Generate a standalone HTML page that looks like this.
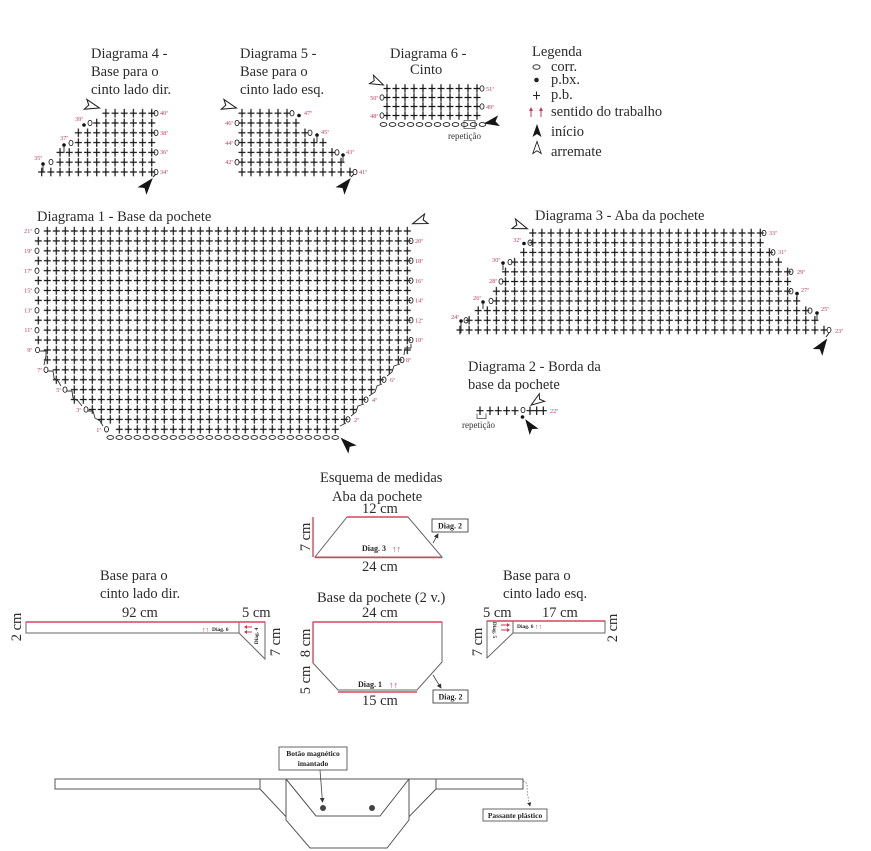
<!DOCTYPE html>
<html><head><meta charset="utf-8"><style>
html,body{margin:0;padding:0;background:#fff;}
svg{display:block;}
text{font-family:"Liberation Serif",serif;}
.t{font-size:14.5px;fill:#2b2b2b;}
.r{font-size:6.2px;fill:#c23b5a;}
.rl{font-size:6.2px;fill:#c23b5a;text-anchor:end;}
.b{font-size:8px;font-weight:bold;fill:#222;}
.sm{font-size:9px;fill:#333;}
</style></head><body>
<svg width="871" height="851" viewBox="0 0 871 851" xmlns="http://www.w3.org/2000/svg">
<defs>
<pattern id="p1" patternUnits="userSpaceOnUse" x="33.8" y="226.04" width="9" height="9.915"><path d="M1 4.96h7M4.5 0.7v8.5" stroke="#151515" stroke-width="1.2" fill="none"/></pattern>
<pattern id="pc1" patternUnits="userSpaceOnUse" x="33.8" y="434.5" width="9" height="6"><ellipse cx="4.5" cy="3" rx="3.3" ry="1.9" stroke="#222" stroke-width="0.9" fill="none"/></pattern>
<pattern id="p3" patternUnits="userSpaceOnUse" x="455.45" y="325.15" width="9.1" height="9.7"><path d="M1.05 4.85h7M4.55 0.6v8.5" stroke="#151515" stroke-width="1.2" fill="none"/></pattern>
<pattern id="p4" patternUnits="userSpaceOnUse" x="37.115" y="167.1" width="9.17" height="9.8"><path d="M1.08 4.9h7M4.585 0.65v8.5" stroke="#151515" stroke-width="1.2" fill="none"/></pattern>
<pattern id="p5" patternUnits="userSpaceOnUse" x="237.5" y="167.1" width="9" height="9.8"><path d="M1 4.9h7M4.5 0.65v8.5" stroke="#151515" stroke-width="1.2" fill="none"/></pattern>
<pattern id="p6" patternUnits="userSpaceOnUse" x="382.5" y="84" width="9" height="9"><path d="M1 4.5h7M4.5 0.3v8.4" stroke="#151515" stroke-width="1.2" fill="none"/></pattern>
<pattern id="pc6" patternUnits="userSpaceOnUse" x="379" y="121.5" width="9" height="6"><ellipse cx="4.5" cy="3" rx="3.3" ry="1.9" stroke="#222" stroke-width="0.9" fill="none"/></pattern>
<path id="ini" d="M0,-7 L4.5,6 L0,3 L-4.5,6 Z" fill="#151515"/>
<path id="arr" d="M0,-6.5 L4.2,5.5 L0,2.8 L-4.2,5.5 Z" fill="#fff" stroke="#222" stroke-width="0.9"/>
<ellipse id="o" cx="0" cy="0" rx="2" ry="2.7" fill="none" stroke="#222" stroke-width="0.9"/>
<marker id="ah" markerWidth="6" markerHeight="6" refX="5" refY="3" orient="auto"><path d="M0,0 L6,3 L0,6 Z" fill="#333"/></marker>
</defs>
<rect width="871" height="851" fill="#fff"/>

<!-- ===== Diagram 4 ===== -->
<text class="t" x="91" y="58">Diagrama 4 -</text>
<text class="t" x="91" y="76">Base para o</text>
<text class="t" x="91" y="94">cinto lado dir.</text>
<rect x="37.115" y="167.1" width="119.21" height="9.8" fill="url(#p4)"/>
<rect x="55.455" y="157.3" width="100.87" height="9.8" fill="url(#p4)"/>
<rect x="55.455" y="147.5" width="100.87" height="9.8" fill="url(#p4)"/>
<rect x="73.795" y="137.7" width="82.53" height="9.8" fill="url(#p4)"/>
<rect x="73.795" y="127.9" width="82.53" height="9.8" fill="url(#p4)"/>
<rect x="92.135" y="118.1" width="64.19" height="9.8" fill="url(#p4)"/>
<rect x="101.305" y="108.3" width="55.02" height="9.8" fill="url(#p4)"/>
<use href="#o" x="156" y="113.2"/><use href="#o" x="156" y="132.8"/><use href="#o" x="156" y="152.4"/><use href="#o" x="156" y="172"/>
<text class="r" x="160" y="115">40ª</text><text class="r" x="160" y="135">38ª</text><text class="r" x="160" y="154">36ª</text><text class="r" x="160" y="174">34ª</text>
<circle cx="84" cy="125" r="1.8" fill="#111"/><use href="#o" x="90" y="123"/><text class="rl" x="83" y="121">39ª</text>
<circle cx="64" cy="145" r="1.8" fill="#111"/><use href="#o" x="71" y="143"/><text class="rl" x="68" y="140">37ª</text>
<circle cx="43" cy="164" r="1.8" fill="#111"/><use href="#o" x="51" y="162"/><text class="rl" x="42" y="160">35ª</text>
<line x1="64" y1="145" x2="64" y2="153" stroke="#222" stroke-width="0.9"/>
<line x1="43" y1="164" x2="43" y2="172" stroke="#222" stroke-width="0.9"/>
<use href="#arr" transform="translate(92,106) rotate(105) scale(1.2)"/>
<line x1="153" y1="177" x2="156" y2="174" stroke="#222" stroke-width="1"/>
<use href="#ini" transform="translate(147,185) rotate(40) scale(1.3)"/>

<!-- ===== Diagram 5 ===== -->
<text class="t" x="240" y="58">Diagrama 5 -</text>
<text class="t" x="240" y="76">Base para o</text>
<text class="t" x="240" y="94">cinto lado esq.</text>
<rect x="237.5" y="167.1" width="117" height="9.8" fill="url(#p5)"/>
<rect x="237.5" y="157.3" width="108" height="9.8" fill="url(#p5)"/>
<rect x="237.5" y="147.5" width="99" height="9.8" fill="url(#p5)"/>
<rect x="237.5" y="137.7" width="90" height="9.8" fill="url(#p5)"/>
<rect x="237.5" y="127.9" width="72" height="9.8" fill="url(#p5)"/>
<rect x="237.5" y="118.1" width="63" height="9.8" fill="url(#p5)"/>
<rect x="237.5" y="108.3" width="54" height="9.8" fill="url(#p5)"/>
<use href="#o" x="292" y="113.2"/><circle cx="299" cy="115.5" r="1.8" fill="#111"/><text class="r" x="304" y="115">47ª</text>
<use href="#o" x="310" y="132.8"/><circle cx="317" cy="135" r="1.8" fill="#111"/><text class="r" x="321" y="134">45ª</text>
<use href="#o" x="337" y="152.4"/><circle cx="343" cy="155" r="1.8" fill="#111"/><text class="r" x="346" y="154">43ª</text>
<use href="#o" x="355" y="172"/><text class="r" x="359" y="174">41ª</text>
<use href="#o" x="237" y="123"/><text class="rl" x="233" y="125">46ª</text>
<use href="#o" x="237" y="142.6"/><text class="rl" x="233" y="145">44ª</text>
<use href="#o" x="237" y="162.2"/><text class="rl" x="233" y="164">42ª</text>
<line x1="317" y1="135" x2="317" y2="142" stroke="#222" stroke-width="0.9"/>
<line x1="343" y1="155" x2="343" y2="162" stroke="#222" stroke-width="0.9"/>
<use href="#arr" transform="translate(229,106) rotate(105) scale(1.2)"/>
<line x1="351" y1="177" x2="354" y2="174" stroke="#222" stroke-width="1"/>
<use href="#ini" transform="translate(345,185) rotate(40) scale(1.3)"/>

<!-- ===== Diagram 6 ===== -->
<text class="t" x="390" y="58">Diagrama 6 -</text>
<text class="t" x="410" y="74">Cinto</text>
<rect x="382.5" y="84" width="99" height="9" fill="url(#p6)"/>
<rect x="382.5" y="93" width="99" height="9" fill="url(#p6)"/>
<rect x="382.5" y="102" width="99" height="9" fill="url(#p6)"/>
<rect x="382.5" y="111" width="99" height="9" fill="url(#p6)"/>
<rect x="379" y="121.5" width="108" height="6" fill="url(#pc6)"/>
<rect x="464" y="120.5" width="11" height="8" fill="none" stroke="#444" stroke-width="0.7"/>
<use href="#o" x="482" y="88.5"/><text class="r" x="486" y="91">51ª</text>
<use href="#o" x="482" y="106.5"/><text class="r" x="486" y="109">49ª</text>
<use href="#o" x="382" y="97.5"/><text class="rl" x="378" y="100">50ª</text>
<use href="#o" x="382" y="115.5"/><text class="rl" x="378" y="118">48ª</text>
<text class="sm" x="448" y="139">repetição</text>
<use href="#arr" transform="translate(377,82) rotate(115) scale(1.1)"/>
<use href="#ini" transform="translate(492,122) rotate(-100) scale(1.2)"/>

<!-- ===== Legend ===== -->
<text class="t" x="532" y="56">Legenda</text>
<ellipse cx="536.5" cy="67" rx="3.5" ry="2.3" fill="none" stroke="#333" stroke-width="1"/>
<text class="t" x="551" y="71">corr.</text>
<circle cx="536.5" cy="80" r="2.3" fill="#222"/>
<text class="t" x="551" y="84">p.bx.</text>
<path d="M533 95.5h7M536.5 91.5v8" stroke="#222" stroke-width="1.1"/>
<text class="t" x="551" y="99">p.b.</text>
<path d="M531 117v-7M541 117v-7" stroke="#c23b5a" stroke-width="1"/>
<path d="M529 111l2-4 2 4zM539 111l2-4 2 4z" fill="#c23b5a"/>
<text class="t" x="551" y="116">sentido do trabalho</text>
<use href="#ini" transform="translate(537,131)"/>
<text class="t" x="551" y="136">início</text>
<use href="#arr" transform="translate(537,148)"/>
<text class="t" x="551" y="156">arremate</text>

<!-- ===== Diagram 1 ===== -->
<text class="t" x="37" y="221">Diagrama 1 - Base da pochete</text>
<rect x="42.8" y="226.04" width="369" height="9.915" fill="url(#p1)"/>
<rect x="33.8" y="235.96" width="378" height="9.915" fill="url(#p1)"/>
<rect x="42.8" y="245.87" width="369" height="9.915" fill="url(#p1)"/>
<rect x="33.8" y="255.79" width="378" height="9.915" fill="url(#p1)"/>
<rect x="42.8" y="265.70" width="369" height="9.915" fill="url(#p1)"/>
<rect x="33.8" y="275.62" width="378" height="9.915" fill="url(#p1)"/>
<rect x="42.8" y="285.53" width="369" height="9.915" fill="url(#p1)"/>
<rect x="33.8" y="295.45" width="378" height="9.915" fill="url(#p1)"/>
<rect x="42.8" y="305.36" width="369" height="9.915" fill="url(#p1)"/>
<rect x="33.8" y="315.28" width="378" height="9.915" fill="url(#p1)"/>
<rect x="42.8" y="325.19" width="369" height="9.915" fill="url(#p1)"/>
<rect x="33.8" y="335.11" width="378" height="9.915" fill="url(#p1)"/>
<rect x="42.8" y="345.02" width="369" height="9.915" fill="url(#p1)"/>
<rect x="42.8" y="354.94" width="360" height="9.915" fill="url(#p1)"/>
<rect x="51.8" y="364.85" width="342" height="9.915" fill="url(#p1)"/>
<rect x="51.8" y="374.77" width="333" height="9.915" fill="url(#p1)"/>
<rect x="69.8" y="384.68" width="306" height="9.915" fill="url(#p1)"/>
<rect x="69.8" y="394.60" width="297" height="9.915" fill="url(#p1)"/>
<rect x="87.8" y="404.51" width="270" height="9.915" fill="url(#p1)"/>
<rect x="96.8" y="414.43" width="252" height="9.915" fill="url(#p1)"/>
<rect x="114.8" y="424.34" width="225" height="9.915" fill="url(#p1)"/>
<rect x="105.8" y="434.5" width="234" height="6" fill="url(#pc1)"/>
<use href="#o" x="37" y="231"/><use href="#o" x="37" y="250.8"/><use href="#o" x="37" y="270.7"/><use href="#o" x="37" y="290.5"/><use href="#o" x="37" y="310.3"/><use href="#o" x="37" y="330.2"/>
<text class="rl" x="32" y="233">21ª</text><text class="rl" x="32" y="253">19ª</text><text class="rl" x="32" y="273">17ª</text><text class="rl" x="32" y="292.5">15ª</text><text class="rl" x="32" y="312.5">13ª</text><text class="rl" x="32" y="332">11ª</text>
<use href="#o" x="37.5" y="350"/><text class="rl" x="32" y="352">9ª</text>
<use href="#o" x="46" y="369.8"/><text class="rl" x="42" y="372">7ª</text>
<use href="#o" x="65" y="389.6"/><text class="rl" x="61" y="392">5ª</text>
<use href="#o" x="86" y="409.5"/><text class="rl" x="81" y="412">3ª</text>
<use href="#o" x="106.5" y="429.3"/><text class="rl" x="101" y="432">1ª</text>
<path d="M40 351H46V356L44 365M48 371H53L54 378L58 381L61 386M67 391H72L73 398L78 401L82 406M88 411H93L95 418L100 421L103 426" fill="none" stroke="#333" stroke-width="0.9"/>
<use href="#o" x="411" y="240.9"/><use href="#o" x="411" y="260.7"/><use href="#o" x="411" y="280.6"/><use href="#o" x="411" y="300.4"/><use href="#o" x="411" y="320.2"/><use href="#o" x="411" y="340.1"/>
<text class="r" x="415" y="243">20ª</text><text class="r" x="415" y="263">18ª</text><text class="r" x="415" y="283">16ª</text><text class="r" x="415" y="302.5">14ª</text><text class="r" x="415" y="322.5">12ª</text><text class="r" x="415" y="342">10ª</text>
<use href="#o" x="402" y="359.9"/><text class="r" x="406" y="362">8ª</text>
<use href="#o" x="384" y="379.7"/><text class="r" x="390" y="382">6ª</text>
<use href="#o" x="366" y="399.6"/><text class="r" x="372" y="402">4ª</text>
<use href="#o" x="348" y="419.4"/><text class="r" x="354" y="422">2ª</text>
<path d="M411 344V348H405L404 355M400 364L394 366L392 372L387 376M382 384L377 386L375 392L369 396M364 404L358 406L356 412L351 416M346 423L340 426" fill="none" stroke="#333" stroke-width="0.9"/>
<use href="#arr" transform="translate(420,221) rotate(-110) scale(1.2)"/>
<use href="#ini" transform="translate(347,444) rotate(-45) scale(1.3)"/>

<!-- ===== Diagram 3 ===== -->
<text class="t" x="535" y="220">Diagrama 3 - Aba da pochete</text>
<rect x="455.45" y="325.15" width="373.1" height="9.7" fill="url(#p3)"/>
<rect x="464.55" y="315.45" width="354.9" height="9.7" fill="url(#p3)"/>
<rect x="473.65" y="305.75" width="336.7" height="9.7" fill="url(#p3)"/>
<rect x="491.85" y="296.05" width="309.4" height="9.7" fill="url(#p3)"/>
<rect x="491.85" y="286.35" width="300.3" height="9.7" fill="url(#p3)"/>
<rect x="500.95" y="276.65" width="291.2" height="9.7" fill="url(#p3)"/>
<rect x="500.95" y="266.95" width="291.2" height="9.7" fill="url(#p3)"/>
<rect x="510.05" y="257.25" width="273" height="9.7" fill="url(#p3)"/>
<rect x="519.15" y="247.55" width="254.8" height="9.7" fill="url(#p3)"/>
<rect x="528.25" y="237.85" width="236.6" height="9.7" fill="url(#p3)"/>
<rect x="528.25" y="228.15" width="236.6" height="9.7" fill="url(#p3)"/>
<use href="#o" x="764" y="233"/><text class="r" x="769" y="235">33ª</text>
<use href="#o" x="773" y="252.4"/><text class="r" x="778" y="254">31ª</text>
<use href="#o" x="791" y="271.8"/><text class="r" x="797" y="274">29ª</text>
<use href="#o" x="791" y="291.2"/><circle cx="797" cy="293.5" r="1.8" fill="#111"/><text class="r" x="801" y="292">27ª</text>
<use href="#o" x="810" y="310.6"/><circle cx="817" cy="313" r="1.8" fill="#111"/><text class="r" x="821" y="311">25ª</text>
<use href="#o" x="829" y="330"/><text class="r" x="835" y="333">23ª</text>
<circle cx="524" cy="243.5" r="1.8" fill="#111"/><use href="#o" x="530" y="242.7"/><text class="rl" x="521" y="242">32ª</text>
<circle cx="503" cy="263" r="1.8" fill="#111"/><use href="#o" x="510" y="262.1"/><text class="rl" x="500" y="262">30ª</text>
<use href="#o" x="501" y="281.5"/><text class="rl" x="497" y="283">28ª</text>
<circle cx="483" cy="302" r="1.8" fill="#111"/><use href="#o" x="491" y="300.9"/><text class="rl" x="481" y="300">26ª</text>
<circle cx="461" cy="321" r="1.8" fill="#111"/><use href="#o" x="466" y="320.3"/><text class="rl" x="459" y="319">24ª</text>
<path d="M503 263V270M483 302V309M461 321V333M797 293.5V300M817 313V320" stroke="#222" stroke-width="0.9"/>
<use href="#arr" transform="translate(520,226) rotate(110) scale(1.2)"/>
<line x1="826" y1="337" x2="829" y2="333" stroke="#222" stroke-width="1"/>
<use href="#ini" transform="translate(822,346) rotate(35) scale(1.3)"/>

<!-- ===== Diagram 2 ===== -->
<text class="t" x="468" y="371">Diagrama 2 - Borda da</text>
<text class="t" x="468" y="389">base da pochete</text>
<path d="M476.5 410.7h7M480 406.5v8.5M486.5 410.7h7M490 406.5v8.5M494.8 410.7h7M498.3 406.5v8.5M503.2 410.7h7M506.7 406.5v8.5M511.5 410.7h7M515 406.5v8.5M526.5 410.7h7M530 406.5v8.5M533.2 410.7h7M536.7 406.5v8.5M539.8 410.7h7M543.3 406.5v8.5" stroke="#151515" stroke-width="1.2"/>
<use href="#o" x="523" y="410"/><circle cx="522.5" cy="417" r="1.8" fill="#111"/>
<path d="M477 413.5V418.5H486V413.5" fill="none" stroke="#444" stroke-width="0.8"/>
<text class="r" x="550" y="413">22ª</text>
<text class="sm" x="462" y="428">repetição</text>
<use href="#arr" transform="translate(537,401) rotate(-125) scale(1.1)"/>
<use href="#ini" transform="translate(530,426) rotate(-35) scale(1.2)"/>

<!-- ===== Esquema de medidas ===== -->
<text class="t" x="320" y="482">Esquema de medidas</text>
<text class="t" x="332" y="501">Aba da pochete</text>
<text class="t" x="362" y="513">12 cm</text>
<path d="M347 517H408L442 557H315Z" fill="none" stroke="#666" stroke-width="1"/>
<path d="M347 517H408M315 557.5H442M313 517V557" stroke="#d9455f" stroke-width="1.4"/>
<text class="t" transform="translate(310,537) rotate(-90)" text-anchor="middle">7 cm</text>
<text class="b" x="362" y="551">Diag. 3</text>
<text x="392" y="552" font-size="9" fill="#c23b5a" font-family="DejaVu Sans, sans-serif">↑↑</text>
<text class="t" x="362" y="571">24 cm</text>
<rect x="432" y="519" width="36" height="13" fill="#fff" stroke="#444" stroke-width="0.9"/>
<text class="b" x="450" y="528.5" text-anchor="middle">Diag. 2</text>
<line x1="433" y1="543" x2="438" y2="534" stroke="#444" stroke-width="0.8" marker-end="url(#ah)"/>

<text class="t" x="317" y="602">Base da pochete (2 v.)</text>
<text class="t" x="362" y="617">24 cm</text>
<path d="M313 622H442V662L417 690H338L313 663Z" fill="none" stroke="#666" stroke-width="1"/>
<path d="M313 622H442M313 622V663M338 692H417" stroke="#d9455f" stroke-width="1.4"/>
<text class="t" transform="translate(310,643) rotate(-90)" text-anchor="middle">8 cm</text>
<text class="t" transform="translate(310,680) rotate(-90)" text-anchor="middle">5 cm</text>
<text class="b" x="358" y="687">Diag. 1</text>
<text x="389" y="688" font-size="9" fill="#c23b5a" font-family="DejaVu Sans, sans-serif">↑↑</text>
<text class="t" x="362" y="705">15 cm</text>
<rect x="433" y="690" width="35" height="13" fill="#fff" stroke="#444" stroke-width="0.9"/>
<text class="b" x="450.5" y="699.5" text-anchor="middle">Diag. 2</text>
<line x1="433" y1="675" x2="441" y2="688" stroke="#444" stroke-width="0.8" marker-end="url(#ah)"/>

<!-- left belt -->
<text class="t" x="100" y="580">Base para o</text>
<text class="t" x="100" y="598">cinto lado dir.</text>
<text class="t" x="122" y="617">92 cm</text>
<text class="t" x="242" y="617">5 cm</text>
<rect x="26" y="622" width="213" height="11" fill="none" stroke="#666" stroke-width="1"/>
<path d="M239 622H265V659L239 633" fill="none" stroke="#666" stroke-width="1"/>
<path d="M26 622H265" stroke="#d9455f" stroke-width="1.4"/>
<text class="t" transform="translate(21,627) rotate(-90)" text-anchor="middle">2 cm</text>
<text class="t" transform="translate(280,642) rotate(-90)" text-anchor="middle">7 cm</text>
<text x="202" y="632" font-size="7" fill="#c23b5a" font-family="DejaVu Sans, sans-serif">↑↑</text>
<text x="212" y="631" font-size="5.5" font-weight="bold" fill="#222">Diag. 6</text>
<path d="M245 627H252M245 632H252" stroke="#c23b5a" stroke-width="1"/>
<path d="M244 627l3-2v4zM244 632l3-2v4z" fill="#c23b5a"/>
<text transform="translate(258,636) rotate(-90)" text-anchor="middle" font-size="5.5" font-weight="bold" fill="#222">Diag. 4</text>

<!-- right belt -->
<text class="t" x="503" y="580">Base para o</text>
<text class="t" x="503" y="598">cinto lado esq.</text>
<text class="t" x="483" y="617">5 cm</text>
<text class="t" x="542" y="617">17 cm</text>
<rect x="513" y="621" width="92" height="12" fill="none" stroke="#666" stroke-width="1"/>
<path d="M513 621H487V658L513 633" fill="none" stroke="#666" stroke-width="1"/>
<path d="M487 621H605" stroke="#d9455f" stroke-width="1.4"/>
<text class="t" transform="translate(617,628) rotate(-90)" text-anchor="middle">2 cm</text>
<text class="t" transform="translate(482,642) rotate(-90)" text-anchor="middle">7 cm</text>
<path d="M501 625H508M501 630H508" stroke="#c23b5a" stroke-width="1"/>
<path d="M510 625l-3-2v4zM510 630l-3-2v4z" fill="#c23b5a"/>
<text transform="translate(493,630) rotate(90)" text-anchor="middle" font-size="5.5" font-weight="bold" fill="#222">Diag. 5</text>
<text x="517" y="628" font-size="5.5" font-weight="bold" fill="#222">Diag. 6</text>
<text x="535" y="629" font-size="7" fill="#c23b5a" font-family="DejaVu Sans, sans-serif">↑↑</text>

<!-- ===== Bottom assembly ===== -->
<g fill="none" stroke="#555" stroke-width="1">
<rect x="55" y="779" width="205" height="10"/>
<rect x="436" y="779" width="87" height="10"/>
<path d="M260 779H436"/>
<path d="M260 789L286 816.7"/>
<path d="M436 789L409 816.7"/>
<path d="M286 779V820L310 848H387L409 820V779"/>
<path d="M286 779L316 816H380L409 779"/>
</g>
<circle cx="323" cy="808" r="3" fill="#444"/>
<circle cx="372" cy="808" r="3" fill="#444"/>
<rect x="279" y="747" width="68" height="23" fill="#fff" stroke="#555" stroke-width="0.9"/>
<text x="313" y="756" text-anchor="middle" font-size="7.5" font-weight="bold" fill="#222">Botão magnético</text>
<text x="313" y="766" text-anchor="middle" font-size="7.5" font-weight="bold" fill="#222">imantado</text>
<line x1="320" y1="770" x2="322.5" y2="802" stroke="#444" stroke-width="0.8" marker-end="url(#ah)"/>
<path d="M523 781Q528 782 527 790Q528 798 530 806" fill="none" stroke="#666" stroke-width="0.7" stroke-dasharray="1.5 1.5" marker-end="url(#ah)"/>
<rect x="483" y="809" width="64" height="12" fill="#fff" stroke="#555" stroke-width="0.9"/>
<text x="515" y="818" text-anchor="middle" font-size="7.5" font-weight="bold" fill="#222">Passante plástico</text>
</svg>
</body></html>
